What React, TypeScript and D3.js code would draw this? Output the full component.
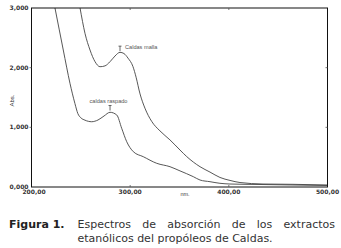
import React, { useEffect, useRef, useState } from "react";
import * as d3 from "d3";

const mallaNm = [246, 249.2, 254.2, 259.3, 264.4, 269.4, 274.5, 279.6, 284.6, 289.7, 293.7, 297.8, 302.8, 306.0, 310.0, 315.0, 321.8, 330.2, 340.3, 350.5, 357.3, 370.8, 380.9, 391.0, 401.2, 411.3, 434.6, 465.0, 499.5];
const mallaAbs = [3.3, 3.0, 2.576, 2.296, 2.1, 2.016, 2.03, 2.1, 2.195, 2.257, 2.237, 2.16, 2.02, 1.84, 1.56, 1.32, 1.1, 0.94, 0.79, 0.62, 0.51, 0.34, 0.25, 0.16, 0.11, 0.075, 0.05, 0.045, 0.034];

const raspNm = [220, 223.8, 232.2, 239.0, 244.0, 247.0, 250.0, 254.2, 261.0, 267.4, 273.5, 279.6, 286.4, 291.4, 296.5, 303.2, 313.3, 326.9, 340.4, 350.5, 364.0, 370.8, 380.9, 391.0, 401.2, 431.6, 465.0, 499.5];
const raspAbs = [3.32, 3.0, 2.296, 1.738, 1.40, 1.23, 1.16, 1.12, 1.094, 1.123, 1.19, 1.252, 1.207, 0.984, 0.759, 0.592, 0.508, 0.397, 0.34, 0.27, 0.173, 0.117, 0.089, 0.062, 0.05, 0.042, 0.034, 0.025];

const xTicks = [200, 300, 400, 500];
const xTickLabels = ["200,00", "300,00", "400,00", "500,00"];
const yTicks = [0, 1, 2, 3];
const yTickLabels = ["0,000", "1,000", "2,000", "3,000"];

const annoLabels = ["Caldas malla", "caldas raspado"];
const annoNm = [289.7, 279.6];
const annoAbs = [2.26, 1.265];

const captionBold = "Figura 1.";
const captionLine1 = ["Espectros", "de", "absorción", "de", "los", "extractos"];
const captionLine2 = "etanólicos del propóleos de Caldas.";

const W = 341, H = 248;
const L = 31.5, R = 327.5, T = 8, B = 187;

export default function App() {
  const x = d3.scaleLinear().domain([200, 500]).range([L, R]);
  const y = d3.scaleLinear().domain([0, 3]).range([B, T]);
  const line = d3.line<[number, number]>().x(d => x(d[0])).y(d => y(d[1])).curve(d3.curveMonotoneX);
  const malla = mallaNm.map((v, i) => [v, mallaAbs[i]] as [number, number]);
  const rasp = raspNm.map((v, i) => [v, raspAbs[i]] as [number, number]);

  const measRef = useRef<SVGGElement>(null);
  const [wordX, setWordX] = useState<number[] | null>(null);
  const capStart = 77.5, capEnd = 335;
  useEffect(() => {
    if (!measRef.current) return;
    const nodes = Array.from(measRef.current.querySelectorAll("text")) as SVGTextElement[];
    const widths = nodes.map(n => n.getComputedTextLength());
    const total = widths.reduce((a, b) => a + b, 0);
    const gap = (capEnd - capStart - total) / (widths.length - 1);
    const xs: number[] = [];
    let cx = capStart;
    widths.forEach(w => { xs.push(cx); cx += w + gap; });
    setWordX(xs);
  }, []);

  const capFont = "'DejaVu Sans', Verdana, sans-serif";

  return (
    <svg width={W} height={H} style={{ position: "absolute", left: 0, top: 0, background: "#fff" }}>
      <defs>
        <clipPath id="plotclip">
          <rect x={L} y={T} width={R - L} height={B - T} />
        </clipPath>
      </defs>
      <rect x={0} y={0} width={W} height={H} fill="#fff" />
      <g clipPath="url(#plotclip)" fill="none" stroke="#444" strokeWidth={0.9}>
        <path d={line(malla) || ""} />
        <path d={line(rasp) || ""} />
      </g>
      <rect x={L} y={T} width={R - L} height={B - T} fill="none" stroke="#111" strokeWidth={1} />
      {yTicks.map((t, i) => (
        <g key={"y" + t}>
          {t > 0 && t < 3 && (
            <>
              <line x1={L - 2} x2={L} y1={y(t)} y2={y(t)} stroke="#555" strokeWidth={0.8} />
              <line x1={R - 2} x2={R} y1={y(t)} y2={y(t)} stroke="#555" strokeWidth={0.8} />
            </>
          )}
          <text x={L - 3} y={y(t)} dy="0.35em" textAnchor="end" fontSize={6} fontWeight="bold"
            fontFamily={capFont} fill="#333">{yTickLabels[i]}</text>
        </g>
      ))}
      {xTicks.map((t, i) => (
        <g key={"x" + t}>
          {t > 200 && t < 500 && (
            <>
              <line x1={x(t)} x2={x(t)} y1={B} y2={B - 2} stroke="#555" strokeWidth={0.8} />
              <line x1={x(t)} x2={x(t)} y1={T} y2={T + 2} stroke="#555" strokeWidth={0.8} />
            </>
          )}
          <text x={x(t) + (i === 0 ? 2.5 : 0)} y={194} textAnchor="middle" fontSize={6} fontWeight="bold"
            fontFamily={capFont} fill="#333">{xTickLabels[i]}</text>
        </g>
      ))}
      <text x={185} y={196} textAnchor="middle" fontSize={5.5} fontFamily="'Liberation Sans', Arial, sans-serif" fill="#444">nm.</text>
      <text transform={`translate(13.5,${(T + B) / 2 + 3}) rotate(-90)`} textAnchor="middle" fontSize={6}
        fontFamily="'Liberation Sans', Arial, sans-serif" fill="#333">Abs.</text>

      {annoLabels.map((lab, i) => {
        const px = x(annoNm[i]);
        const py = y(annoAbs[i]);
        return (
          <g key={lab}>
            <line x1={px} x2={px} y1={py - 6} y2={py - 1} stroke="#444" strokeWidth={0.8} />
            <line x1={px - 1.5} x2={px + 1.5} y1={py - 6} y2={py - 6} stroke="#444" strokeWidth={0.8} />
            {i === 0 ? (
              <text x={px + 5} y={py - 3.5} fontSize={5.6} fontFamily="'Liberation Sans', Arial, sans-serif" fill="#555">{lab}</text>
            ) : (
              <text x={px - 1.5} y={py - 9} textAnchor="middle" fontSize={5.6} fontFamily="'Liberation Sans', Arial, sans-serif" fill="#555">{lab}</text>
            )}
          </g>
        );
      })}

      <text x={9} y={227.5} fontSize={11} fontWeight="bold" fontFamily={capFont} fill="#222">{captionBold}</text>
      <g ref={measRef} visibility="hidden">
        {captionLine1.map((w, i) => (
          <text key={"m" + i} x={0} y={0} fontSize={11} fontFamily={capFont}>{w}</text>
        ))}
      </g>
      {wordX && captionLine1.map((w, i) => (
        <text key={"w" + i} x={wordX[i]} y={227.5} fontSize={11} fontFamily={capFont} fill="#333">{w}</text>
      ))}
      <text x={capStart} y={241.5} fontSize={11} fontFamily={capFont} fill="#333">{captionLine2}</text>
    </svg>
  );
}
